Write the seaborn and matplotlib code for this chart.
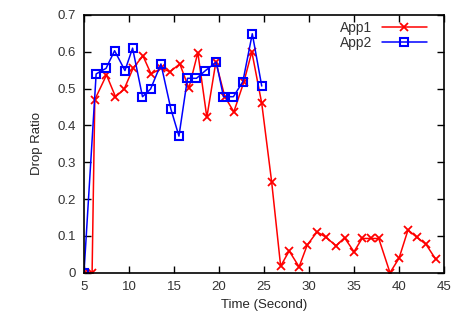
import numpy as np
import pandas as pd
import seaborn as sns
import matplotlib
matplotlib.use("Agg")
import matplotlib.pyplot as plt

# ─────────────────────────────────────────
# DATA
# ─────────────────────────────────────────
app1_time = [5.0, 5.9, 6.2, 7.5, 8.5, 9.45, 10.45, 11.55, 12.45, 13.6, 14.55,
             15.65, 16.65, 17.65, 18.65, 19.65, 20.65, 21.65, 22.75, 23.65,
             24.75, 25.85, 26.85, 27.8, 28.9, 29.8, 30.9, 31.9, 33.0, 33.95,
             35.0, 35.9, 36.85, 37.75, 39.0, 40.0, 41.0, 42.0, 43.0, 44.1]
app1_drop = [0.0, 0.0, 0.47, 0.537, 0.478, 0.498, 0.555, 0.589, 0.54, 0.555,
             0.546, 0.567, 0.501, 0.598, 0.422, 0.572, 0.478, 0.437, 0.517,
             0.60, 0.46, 0.247, 0.018, 0.059, 0.016, 0.075, 0.111, 0.096,
             0.073, 0.095, 0.057, 0.093, 0.093, 0.093, 0.0, 0.039, 0.116,
             0.096, 0.077, 0.036]

app2_time = [5.0, 6.35, 7.45, 8.4, 9.55, 10.4, 11.5, 12.4, 13.55, 14.65,
             15.55, 16.5, 17.5, 18.5, 19.7, 20.5, 21.6, 22.65, 23.7, 24.75]
app2_drop = [0.0, 0.54, 0.555, 0.603, 0.549, 0.61, 0.478, 0.499, 0.567,
             0.445, 0.371, 0.528, 0.528, 0.549, 0.572, 0.478, 0.478, 0.519,
             0.649, 0.507]

x_ticks = [5, 10, 15, 20, 25, 30, 35, 40, 45]
y_ticks = [0, 0.1, 0.2, 0.3, 0.4, 0.5, 0.6, 0.7]
y_tick_labels = ["0", "0.1", "0.2", "0.3", "0.4", "0.5", "0.6", "0.7"]

df1 = pd.DataFrame({"time": app1_time, "drop": app1_drop})
df2 = pd.DataFrame({"time": app2_time, "drop": app2_drop})

# ─────────────────────────────────────────
# STYLE
# ─────────────────────────────────────────
sns.set_style("ticks")
plt.rcParams["font.family"] = ["Liberation Sans", "DejaVu Sans"]
plt.rcParams["text.color"] = "#333333"

fig = plt.figure(figsize=(4.55, 3.23), dpi=100)
ax = fig.add_axes([0.1846, 0.1557, 0.7912, 0.7979])

sns.lineplot(data=df1, x="time", y="drop", ax=ax, color="#ff0000",
             marker="x", markersize=6, markeredgewidth=1.3,
             markeredgecolor="#ff0000", linewidth=1.1,
             label="App1", sort=False)
sns.lineplot(data=df2, x="time", y="drop", ax=ax, color="#0000ff",
             marker="s", markersize=6, markerfacecolor="none",
             markeredgecolor="#0000ff", markeredgewidth=1.5, linewidth=1.1,
             label="App2", sort=False)

ax.set_xlim(5, 45)
ax.set_ylim(0, 0.7)
ax.set_xticks(x_ticks)
ax.set_yticks(y_ticks)
ax.set_yticklabels(y_tick_labels)
ax.tick_params(direction="in", length=5, width=1, top=True, right=True,
               labelsize=9.5, colors="black", labelcolor="#333333", pad=6)
for s in ax.spines.values():
    s.set_linewidth(1.2)
    s.set_color("black")

ax.set_xlabel("Time (Second)", fontsize=9.5, labelpad=4)
ax.set_ylabel("Drop Ratio", fontsize=9.5, labelpad=10)

leg = ax.legend(loc="upper right", bbox_to_anchor=(0.975, 1.01),
                frameon=False, markerfirst=False, fontsize=10,
                handlelength=3.2, handletextpad=0.7, labelspacing=0.1,
                borderaxespad=0.2)

plt.savefig("out.png", dpi=100)
